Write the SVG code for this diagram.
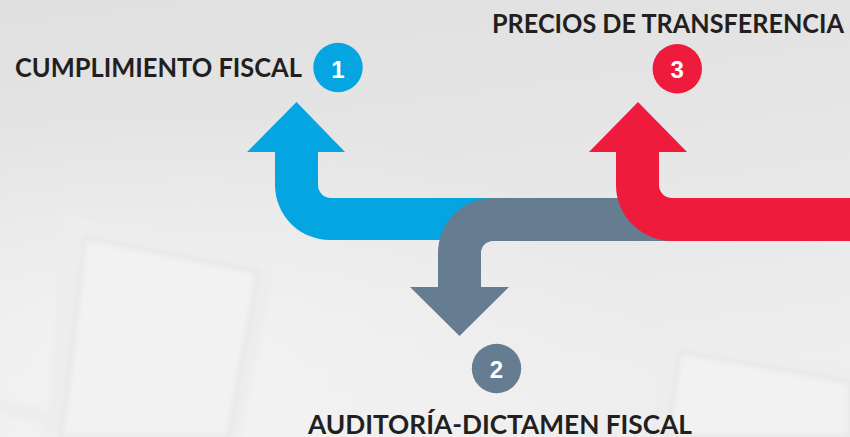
<svg xmlns="http://www.w3.org/2000/svg" width="850" height="437" viewBox="0 0 850 437">
<defs>
<linearGradient id="bg" x1="0" y1="0" x2="0.25" y2="1">
<stop offset="0" stop-color="#E0E0E0"/>
<stop offset="0.5" stop-color="#E6E6E6"/>
<stop offset="1" stop-color="#EEEEEE"/>
</linearGradient>
<radialGradient id="glow" cx="0.18" cy="0.85" r="0.6">
<stop offset="0" stop-color="#F4F4F4" stop-opacity="0.9"/>
<stop offset="1" stop-color="#F4F4F4" stop-opacity="0"/>
</radialGradient>
<filter id="soft" x="-10%" y="-10%" width="120%" height="120%">
<feGaussianBlur stdDeviation="2.5"/>
</filter>
<style>
.lbl{font-family:Lato,"Open Sans","Liberation Sans",sans-serif;font-weight:700;fill:#231F20;font-size:26px}
.num{font-family:"Liberation Sans",Arial,sans-serif;font-weight:700;fill:#FFFFFF;font-size:24px;text-anchor:middle}
.frame{fill:#EDEDED}
.inner{fill:#F2F2F2;stroke:#E4E4E4;stroke-width:3}
</style>
</defs>
<rect width="850" height="437" fill="url(#bg)"/>
<rect width="850" height="437" fill="url(#glow)"/>
<g id="background-frames" filter="url(#soft)">
<polygon class="frame" points="63,215 277,258 240,437 40,437 48,410"/>
<polygon class="inner" points="85,238 258,272 228,437 60,437 66,405"/>
<polygon class="frame" points="0,398 52,412 48,425 0,414"/>
<polygon class="frame" points="663,335 850,368 850,437 650,437"/>
<polygon class="inner" points="680,352 850,382 850,437 668,437"/>
</g>
<g id="connectors">
<path id="arrow-1" fill="#04A5E1" d="M296.5,102 L345,152 L318,152 L318,185 A13,13 0 0 0 331,198 L500,198 L500,240 L330,240 A55,55 0 0 1 275,185 L275,152 L247,152 Z"/>
<path id="arrow-2" fill="#667C91" d="M700,198 L493,198 A55,55 0 0 0 438,253 L438,287 L410,287 L459.5,336 L509,287 L481,287 L481,253 A12,12 0 0 1 493,241 L700,241 Z"/>
<path id="arrow-3" fill="#EE1B3C" d="M638,102 L687,152 L659,152 L659,185 A13,13 0 0 0 672,198 L850,198 L850,241 L672,241 A56,56 0 0 1 616,185 L616,152 L589,152 Z"/>
</g>
<g id="node-1">
<text class="lbl" x="15" y="77" textLength="287" lengthAdjust="spacingAndGlyphs">CUMPLIMIENTO FISCAL</text>
<circle cx="338" cy="67.5" r="24.7" fill="#04A5E1"/>
<text class="num" x="338" y="77.5">1</text>
</g>
<g id="node-2">
<circle cx="496.5" cy="368.5" r="24.7" fill="#667C91"/>
<text class="num" x="496.5" y="378">2</text>
<text class="lbl" x="308" y="434" textLength="384" lengthAdjust="spacingAndGlyphs">AUDITORÍA-DICTAMEN FISCAL</text>
</g>
<g id="node-3">
<text class="lbl" x="492" y="33" textLength="352" lengthAdjust="spacingAndGlyphs">PRECIOS DE TRANSFERENCIA</text>
<circle cx="677.3" cy="68.7" r="24.7" fill="#EE1B3C"/>
<text class="num" x="677.3" y="78">3</text>
</g>
</svg>
